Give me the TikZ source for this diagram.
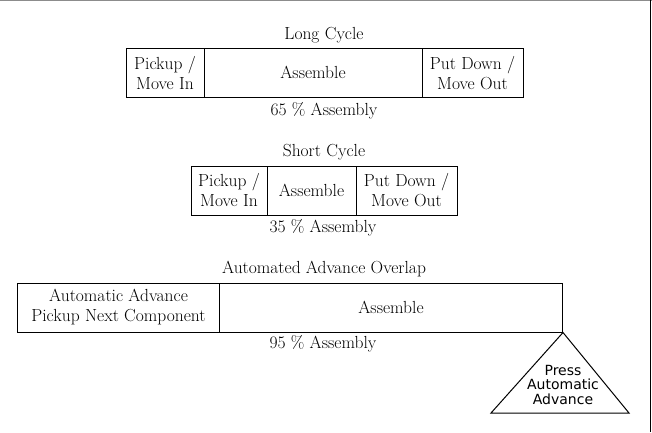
\documentclass[tikz,border=0pt]{standalone}
\usepackage{fontspec}
\newfontfamily\trifont{DejaVu Sans}
\begin{document}
\begin{tikzpicture}[x=1pt,y=-1pt,
  box/.style={draw, line width=1pt, inner sep=0pt, align=center,
    font=\fontsize{17.5}{20}\selectfont},
  lbl/.style={inner sep=0pt, font=\fontsize{17.5}{20}\selectfont},
  frame/.style={line width=1pt}]
\useasboundingbox (0,0) rectangle (652,432);
% scan frame
\coordinate (ft1) at (0,0.6);
\coordinate (ft2) at (652,0.6);
\coordinate (fr1) at (650,0);
\coordinate (fr2) at (650,432);
\draw[frame, black!45] (ft1) -- (ft2);
\draw[frame] (fr1) -- (fr2);

% Long cycle
\node[lbl] (tlong) at (324,35) {Long Cycle};
\node[box, minimum width=78pt, minimum height=48.5pt] (l1) at (165,72.75) {Pickup /\\Move In};
\node[box, minimum width=218pt, minimum height=48.5pt] (l2) at (313,72.75) {Assemble};
\node[box, minimum width=101pt, minimum height=48.5pt] (l3) at (472.5,72.75) {Put Down /\\Move Out};
\node[lbl] (plong) at (324,111) {65 \% Assembly};

% Short cycle
\node[lbl] (tshort) at (324,152) {Short Cycle};
\node[box, minimum width=76pt, minimum height=49pt] (s1) at (229,190.5) {Pickup /\\Move In};
\node[box, minimum width=89pt, minimum height=49pt] (s2) at (311.5,190.5) {Assemble};
\node[box, minimum width=101pt, minimum height=49pt] (s3) at (406.5,190.5) {Put Down /\\Move Out};
\node[lbl] (pshort) at (323,227.5) {35 \% Assembly};

% Automated advance overlap
\node[lbl] (tauto) at (324,269) {Automated Advance Overlap};
\node[box, minimum width=202pt, minimum height=49pt] (a1) at (118.5,307.5) {Automatic Advance\\Pickup Next Component};
\node[box, minimum width=343pt, minimum height=49pt] (a2) at (391,307.5) {Assemble};
\node[lbl] (pauto) at (323,344) {95 \% Assembly};

% Press automatic advance triangle
\coordinate (tl) at (491,413);
\coordinate (tr) at (629,413);
\draw[line width=1pt, line join=miter] (a2.south east) -- (tr) -- (tl) -- cycle;
\node[inner sep=0pt, align=center, font=\trifont\fontsize{14}{14.5}\selectfont] (press) at (563,384.5) {Press\\Automatic\\Advance};
\end{tikzpicture}
\end{document}
